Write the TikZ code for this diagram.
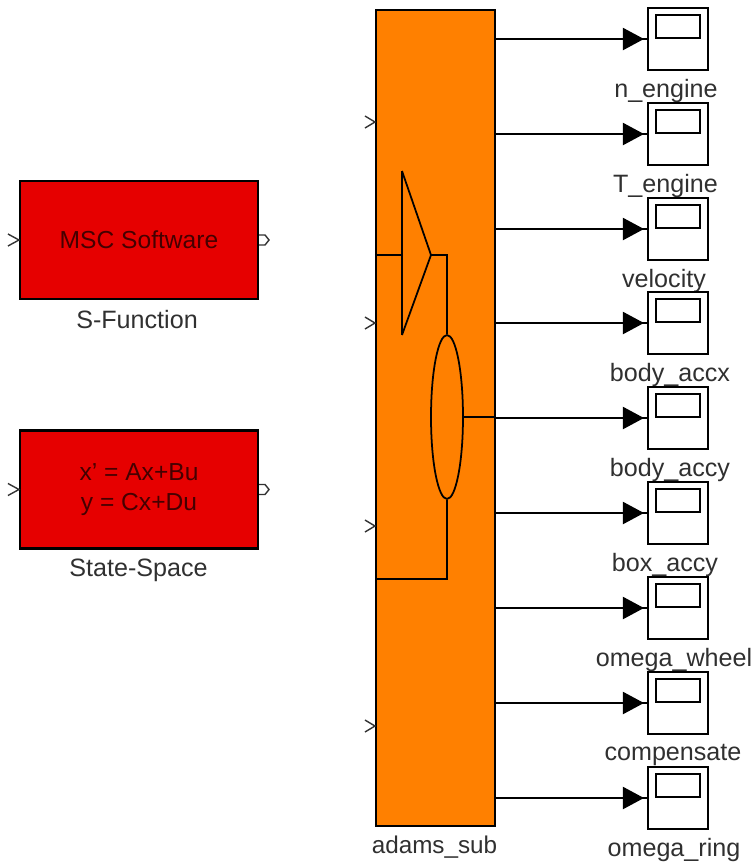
\documentclass[tikz,border=0pt]{standalone}
\usepackage{fontspec}
\setmainfont{Liberation Sans}
\usetikzlibrary{arrows.meta,calc,shapes.geometric}
\definecolor{blockred}{HTML}{E60000}
\definecolor{blockorange}{HTML}{FF8000}
\definecolor{labelgray}{HTML}{303030}
\tikzset{
    wire/.style={line width=1.2pt,black},
    portmark/.style={line width=0.8pt,black!80},
    redblock/.style={draw,line width=1.2pt,fill=blockred,minimum width=4.76cm,minimum height=2.36cm,inner sep=0pt,font=\fontsize{14}{16}\selectfont,text=black!70!blockred,align=center},
    scopebox/.style={draw,line width=1.2pt,fill=white,minimum width=1.2cm,minimum height=1.24cm,inner sep=0pt},
    scopescreen/.style={draw,line width=1.2pt,fill=white,minimum width=0.88cm,minimum height=0.46cm,inner sep=0pt},
    blocklabel/.style={font=\fontsize{14.3}{16}\selectfont,text=labelgray,inner sep=0pt}
}

\begin{document}
\begin{tikzpicture}[x=0.02cm,y=-0.02cm]
    \useasboundingbox (0,0) rectangle (753,863);
    % Red blocks on the left
    \node[redblock] (sfun) at (139,240) {\raisebox{1pt}{MSC Software}};
    \node[blocklabel] (sfunlabel) at (137,320) {S-Function};
    \node[redblock] (statespace) at (139,489.5) {\raisebox{-2.5pt}{x' = Ax+Bu}\\[2pt]\raisebox{-2pt}{y = Cx+Du}};
    \node[blocklabel] (statespacelabel) at (138.5,570) {State-Space};
    \foreach \blockname in {sfun,statespace} {
        \draw[portmark] ($(\blockname.west)+(-11,-6)$) -- (\blockname.west) -- ($(\blockname.west)+(-11,6)$);
        \draw[portmark] (\blockname.east) ++(0,-5) -- ++(6,0) -- ++(4,5) -- ++(-4,5) -- ++(-6,0);
    }
    % Orange subsystem
    \node[draw,line width=1.2pt,fill=blockorange,minimum width=2.38cm,minimum height=16.32cm,inner sep=0pt] (adams) at (435.5,418) {};
    \node[blocklabel,font=\fontsize{13.8}{16}\selectfont] (adamslabel) at (434.5,847) {adams\_sub};
    \foreach \ypos in {122,323,526,726} {
        \draw[portmark] ($(adams.west |- 0,\ypos)+(-10,-6)$) -- (adams.west |- 0,\ypos) -- ($(adams.west |- 0,\ypos)+(-10,6)$);
    }
    % Triangle and ellipse inside
    \coordinate (tritop) at (402,171);
    \coordinate (tribottom) at (402,335);
    \coordinate (tritip) at (431,255);
    \node[draw,ellipse,line width=1pt,minimum width=0.64cm,minimum height=3.28cm,inner sep=0pt] (sumoval) at (447,417) {};
    \draw[wire] (tritop) -- (tribottom);
    \draw[line width=1pt] (tritop) -- (tritip) -- (tribottom);
    \draw[wire] (adams.west |- tritip) -- (tritop |- tritip);
    \draw[wire] (tritip) -| (sumoval.north);
    \draw[wire] (sumoval.south) |- (adams.west |- 0,579);
    \draw[wire] (sumoval.east) -- (adams.east |- sumoval.east);
    % Scopes
    \foreach \scopename/\ypos/\labx/\labtext in {
        nengine/39/666/n\_engine,
        tengine/134/665.5/T\_engine,
        velocity/229/664/velocity,
        bodyaccx/323/670/body\_accx,
        bodyaccy/418/670/body\_accy,
        boxaccy/513/665/box\_accy,
        omegawheel/608/674/omega\_wheel,
        compensate/703/673/compensate,
        omegaring/798/674/omega\_ring} {
        \node[scopebox] (\scopename) at (678,\ypos) {};
        \node[scopescreen] (\scopename screen) at ($(\scopename)+(0,-12.5)$) {};
        \node[blocklabel] (\scopename label) at (\labx,\ypos+52) {\labtext};
        \draw[wire] (adams.east |- \scopename.west) -- (\scopename.west);
        \draw[wire,-{Triangle[length=0.42cm,width=0.44cm]},shorten >=0.06cm] (adams.east |- \scopename.west) -- (\scopename.west);
    }
\end{tikzpicture}
\end{document}
